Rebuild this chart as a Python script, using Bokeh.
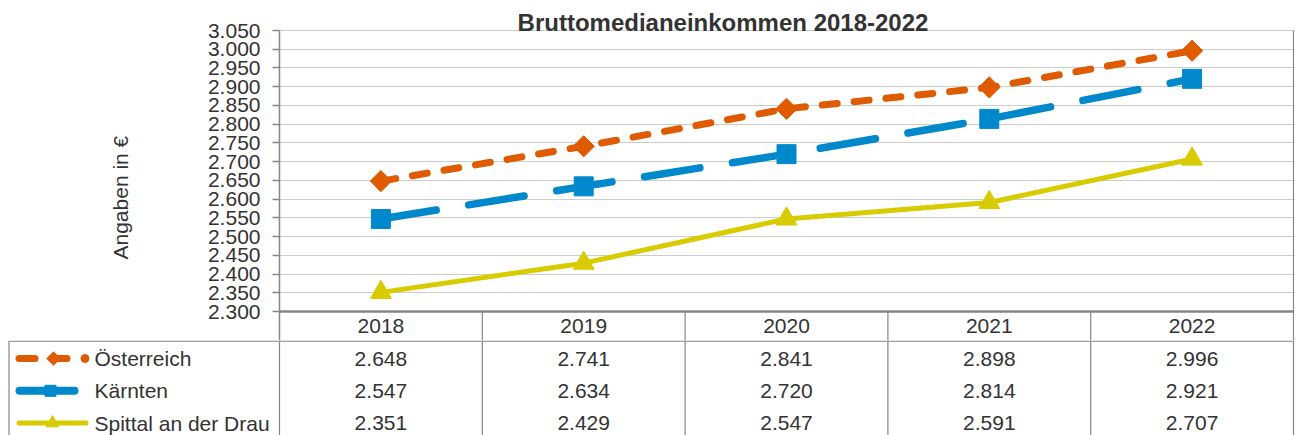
import math
from bokeh.plotting import figure
from bokeh.models import Range1d, FixedTicker, Label, ColumnDataSource, Title
from bokeh.core.properties import value
from bokeh.embed import file_html
from bokeh.resources import INLINE

# ---------------- data ----------------
years = ["2018", "2019", "2020", "2021", "2022"]
oesterreich = [2648, 2741, 2841, 2898, 2996]
kaernten = [2547, 2634, 2720, 2814, 2921]
spittal = [2351, 2429, 2547, 2591, 2707]
series_names = ["Österreich", "Kärnten", "Spittal an der Drau"]
y_ticks = [2300, 2350, 2400, 2450, 2500, 2550, 2600, 2650, 2700,
           2750, 2800, 2850, 2900, 2950, 3000, 3050]
title_text = "Bruttomedianeinkommen 2018-2022"
y_label = "Angaben in €"

# ---------------- style ----------------
ORANGE = "#E05A00"
BLUE = "#0088CC"
YELLOW = "#D8CB00"
GRAYLINE = "#868686"
GRID = "#9a9a9a"
TXT = "#333333"
FONT = "Liberation Sans"


def de(v):
    return f"{v:,}".replace(",", ".")


# ---------------- layout geometry (page px) ----------------
W = 1299
LEFT = 279                # chart frame left edge
RIGHT = 5
COLW = (1293 - LEFT) / 5  # one year column
X_END = -0.5 + (W - LEFT - RIGHT) / COLW
CHART_H = 340             # chart figure: page y 0..340 (incl. header row)
Y_LO, Y_HI = 2300, 3050
K = (311 - 30) / (Y_HI - Y_LO)   # px per unit
Y_START = Y_LO - (CHART_H - 311) / K
Y_END = Y_HI + 30 / K
Y_HEAD = Y_LO - (325.7 - 311) / K   # header row text line
Y_TITLE = Y_HI + (30 - 21.7) / K    # title text middle

TABLE_TOP = CHART_H
TABLE_H = 435 - CHART_H
ROWH = 32.3
ROW1 = 358.0
T_TOP = 1 - (ROW1 - TABLE_TOP) / ROWH
T_BOT = 1 + (435 - ROW1) / ROWH
TX0 = -0.5 - LEFT / COLW
TX_END = TX0 + W / COLW


def tx(px):
    return TX0 + px / COLW


def ty(py):
    return 1 + (py - ROW1) / ROWH


xs = list(range(len(years)))
src = ColumnDataSource(dict(x=xs, oe=oesterreich, ka=kaernten, sp=spittal))

# ---------------- chart ----------------
p = figure(width=W, height=CHART_H, x_range=Range1d(-0.5, X_END),
           y_range=Range1d(Y_START, Y_END), output_backend="svg",
           toolbar_location=None, x_axis_location=None, title=None,
           min_border_left=LEFT, min_border_right=RIGHT, min_border_top=0,
           min_border_bottom=0)
p.outline_line_color = None
p.xgrid.visible = False

ax = p.yaxis[0]
ax.ticker = FixedTicker(ticks=y_ticks)
ax.major_label_overrides = {t: de(t) for t in y_ticks}
ax.bounds = (Y_START, Y_HI)
ax.axis_line_color = GRAYLINE
ax.axis_line_width = 1.5
ax.major_tick_out = 7
ax.major_tick_in = 0
ax.major_tick_line_color = GRAYLINE
ax.major_tick_line_width = 1.5
ax.minor_tick_line_color = None
ax.major_label_text_font = FONT
ax.major_label_text_font_size = "21px"
ax.major_label_text_color = TXT
ax.major_label_standoff = 12

p.ygrid.ticker = FixedTicker(ticks=y_ticks)
p.ygrid.grid_line_color = GRID
p.ygrid.grid_line_dash = "1 1"
p.ygrid.grid_line_width = 1

# plot-area border (bottom and right) and header-row column separators
p.segment(x0=[-0.5], y0=[Y_LO], x1=[4.5], y1=[Y_LO], line_color=GRAYLINE,
          line_width=2.5)
p.segment(x0=[4.5], y0=[Y_START], x1=[4.5], y1=[Y_HI], line_color=GRAYLINE,
          line_width=1.2)
seps = [0.5 + i for i in range(len(years) - 1)]
p.segment(x0=seps, y0=[Y_LO] * len(seps), x1=seps, y1=[Y_START] * len(seps),
          line_color=GRAYLINE, line_width=1.2)

# header row (years)
p.text(x=xs, y=[Y_HEAD] * len(xs), text=years, text_align="center",
       text_baseline="middle", text_font=value(FONT), text_font_size="21px",
       text_color=TXT)

# series
p.line("x", "oe", source=src, line_color=ORANGE, line_width=7,
       line_dash="15 17", line_cap="round")
p.scatter("x", "oe", source=src, marker="square", angle=math.pi / 4,
          size=15, color=ORANGE)
p.line("x", "ka", source=src, line_color=BLUE, line_width=7.5,
       line_dash="56 33", line_cap="round")
p.scatter("x", "ka", source=src, marker="square", size=19, color=BLUE)
p.line("x", "sp", source=src, line_color=YELLOW, line_width=5)
p.scatter("x", "sp", source=src, marker="triangle", size=21, color=YELLOW)

# chart title
p.add_layout(Label(x=(722.5 - LEFT) / COLW - 0.5, y=Y_TITLE, text=title_text,
                   text_align="center", text_baseline="middle",
                   text_font=FONT, text_font_style="bold",
                   text_font_size="24px", text_color=TXT))
# y axis label as a side title
p.add_layout(Title(text=y_label, align="left", offset=81, standoff=144,
                   vertical_align="middle", text_font=FONT,
                   text_font_style="normal", text_font_size="21px",
                   text_color=TXT), "left")

# ---------------- data table ----------------
t = figure(width=W, height=TABLE_H, x_range=Range1d(TX0, TX_END),
           y_range=Range1d(T_BOT, T_TOP), output_backend="svg",
           toolbar_location=None, x_axis_location=None, y_axis_location=None,
           title=None, min_border=0)
t.outline_line_color = None
t.grid.visible = False

bounds_x = [-0.5 + i for i in range(len(years) + 1)]
t.segment(x0=bounds_x, y0=[T_TOP] * len(bounds_x), x1=bounds_x,
          y1=[T_BOT] * len(bounds_x), line_color=GRAYLINE, line_width=1.2)
y_hline = ty(TABLE_TOP + 0.6)
t.segment(x0=[tx(8.5)], y0=[y_hline], x1=[4.5], y1=[y_hline],
          line_color=GRAYLINE, line_width=1.2)
t.segment(x0=[tx(8.5)], y0=[y_hline], x1=[tx(8.5)], y1=[T_BOT],
          line_color=GRAYLINE, line_width=1.2)

for row, vals in enumerate([oesterreich, kaernten, spittal], start=1):
    t.text(x=xs, y=[row] * len(xs), text=[de(v) for v in vals],
           text_align="center", text_baseline="middle", text_font=value(FONT),
           text_font_size="21px", text_color=TXT)

t.text(x=[tx(94)] * 3, y=[1, 2, 3], text=series_names, text_align="left",
       text_baseline="middle", text_font=value(FONT), text_font_size="21px",
       text_color=TXT)

# legend keys
t.segment(x0=[tx(18.5), tx(56)], y0=[1, 1], x1=[tx(34.5), tx(66.5)],
          y1=[1, 1], line_color=ORANGE, line_width=7, line_cap="round")
t.scatter(x=[tx(84.5)], y=[1], marker="circle", size=8, color=ORANGE)
t.scatter(x=[tx(53)], y=[1], marker="square", angle=math.pi / 4, size=9.5,
          color=ORANGE)

t.segment(x0=[tx(19)], y0=[2], x1=[tx(74)], y1=[2], line_color=BLUE,
          line_width=8, line_cap="round")
t.scatter(x=[tx(50)], y=[2], marker="square", size=11, color=BLUE)

t.segment(x0=[tx(18.5)], y0=[3], x1=[tx(85.5)], y1=[3], line_color=YELLOW,
          line_width=5, line_cap="round")
t.scatter(x=[tx(52)], y=[3], marker="triangle", size=13, color=YELLOW)

open("out.html", "w").write(file_html([p, t], INLINE))
